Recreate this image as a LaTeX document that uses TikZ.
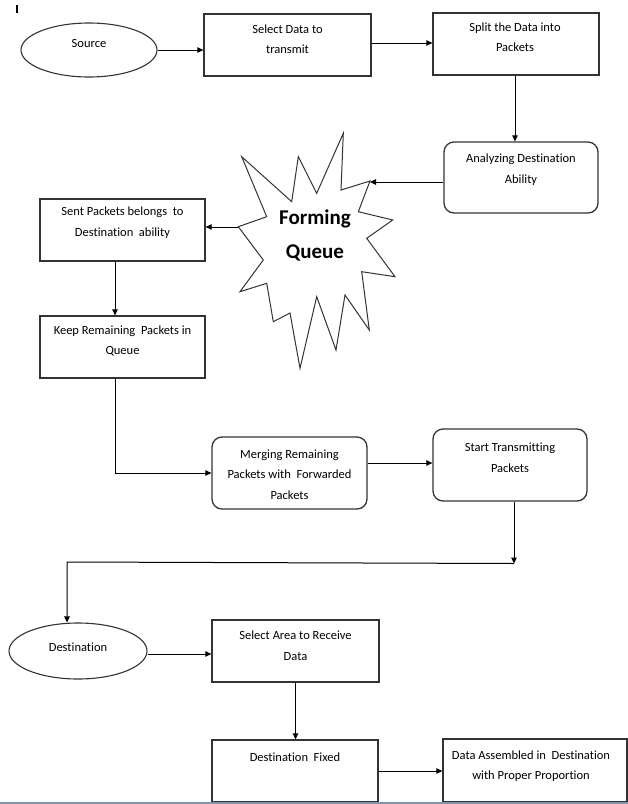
\documentclass[tikz,border=0pt]{standalone}
\usepackage{fontspec}
\setmainfont{Carlito}[Ligatures={NoCommon}]
\usetikzlibrary{shapes.geometric,arrows.meta}
\definecolor{boxc}{HTML}{333333}
\definecolor{pageline}{HTML}{7F93B4}
\begin{document}
\begin{tikzpicture}[x=1pt,y=-1pt,
  box/.style={draw=boxc, line width=1.3pt, inner sep=0pt, anchor=center},
  rbox/.style={box, rounded corners=10pt},
  oval/.style={draw=boxc, line width=1.1pt, ellipse, inner sep=0pt, anchor=center},
  txt/.style={align=center, inner sep=0pt, font=\fontsize{12.5}{20.5}\selectfont},
  bigtxt/.style={align=center, inner sep=0pt, font=\fontsize{21}{34.5}\selectfont\bfseries},
  arr/.style={draw=black, line width=1pt, -{Triangle[length=6pt,width=5.5pt]}},
  ln/.style={draw=black, line width=1pt}]
\useasboundingbox (0,0) rectangle (628,804);
\fill[white] (0,0) rectangle (628,804);
% stray mark
\draw[line width=2pt] (17,5) -- (17,13);
% nodes
\node[oval, minimum width=136pt, minimum height=54pt] (src) at (89,50) {};
\node[box, minimum width=167pt, minimum height=62pt] (sel) at (287.5,45) {};
\node[box, minimum width=166pt, minimum height=62pt] (split) at (516,44) {};
\node[rbox, minimum width=154pt, minimum height=71pt] (anal) at (521,177.5) {};
\node[box, minimum width=165pt, minimum height=62pt] (sent) at (122.5,230) {};
\node[box, minimum width=165pt, minimum height=62pt] (keep) at (122.5,347) {};
\node[rbox, minimum width=155pt, minimum height=72pt] (merge) at (289.5,473) {};
\node[rbox, minimum width=154pt, minimum height=72pt] (start) at (510,465) {};
\node[oval, minimum width=138pt, minimum height=56pt] (dest) at (78,651) {};
\node[box, minimum width=167pt, minimum height=62pt] (area) at (295.5,651) {};
\node[box, minimum width=166pt, minimum height=62pt] (fixed) at (295,771) {};
\node[box, minimum width=184pt, minimum height=63pt] (asm) at (535,770.5) {};
% star
\draw[draw=boxc, line width=1pt, fill=white]
  (343.3,133.3) -- (341,190) -- (370,181) -- (358.3,211.7) -- (392.7,220)
  -- (366.7,238.3) -- (395,276.7) -- (361.7,271.7) -- (369.3,330)
  -- (345,295) -- (336,350) -- (316.7,296.7) -- (300,368.3)
  -- (290,313) -- (273.3,321.7) -- (266.7,283.3) -- (240,291.7)
  -- (263.3,260) -- (238.3,226.7) -- (266.7,216.7) -- (241.7,156.7)
  -- (291.7,201.7) -- (298.3,156.7) -- (316.7,193.3) -- cycle;
\coordinate (starR) at (370,182);
\coordinate (starL) at (238.3,227);
% texts
\node[txt] (srct) at (89,43) {Source};
\node[txt] (selt) at (287.5,39) {Select Data to\\transmit};
\node[txt] (splitt) at (515,37) {Split the Data into\\Packets};
\node[txt] (analt) at (521,169.5) {Analyzing Destination\\Ability};
\node[bigtxt] (fq) at (315,235.5) {Forming\\Queue};
\node[txt] (sentt) at (122.5,222.5) {Sent Packets belongs\ \ to\\Destination\ \ ability};
\node[txt] (keept) at (122.5,341) {Keep Remaining\ \ Packets in\\Queue};
\node[txt] (merget) at (289.5,474.5) {Merging Remaining\\Packets with\ \ Forwarded\\Packets};
\node[txt] (startt) at (510,457.5) {Start Transmitting\\Packets};
\node[txt] (destt) at (78,647) {Destination};
\node[txt] (areat) at (295.5,645.5) {Select Area to Receive\\Data};
\node[txt] (fixedt) at (295,757) {Destination\ \ Fixed};
\node[txt] (asmt) at (531,766) {Data Assembled in\ \ Destination\\with Proper Proportion};
% connectors
\draw[arr] (src.east) -- (src.east -| sel.west);
\draw[arr] ([yshift=2pt]sel.east) -- ([yshift=2pt]sel.east -| split.west);
\draw[arr] ([xshift=-1pt]split.south) -- ([xshift=-1pt]split.south |- anal.north);
\draw[arr] (anal.west |- starR) -- (starR);
\draw[arr] (starL) -- (starL -| sent.east);
\draw[arr] ([xshift=-7.5pt]sent.south) -- ([xshift=-7.5pt]sent.south |- keep.north);
\draw[arr] ([xshift=-7.5pt]keep.south) |- (merge.west);
\draw[arr] ([yshift=10pt]merge.east) -- ([yshift=10pt]merge.east -| start.west);
\coordinate (jn) at (514,563.5);
\coordinate (jl) at (67,562);
\draw[arr] ([xshift=4pt]start.south) -- (jn);
\draw[arr] (jn) -- (jl) -- (jl |- dest.north);
\draw[arr] ([yshift=-3pt]dest.east) -- ([yshift=-3pt]dest.east -| area.west);
\draw[arr] (area.south) -- (area.south |- fixed.north);
\draw[arr] (fixed.east) -- (fixed.east -| asm.west);
% page line
\draw[pageline, line width=1.5pt] (0,802.8) -- (628,802.8);
\end{tikzpicture}
\end{document}
